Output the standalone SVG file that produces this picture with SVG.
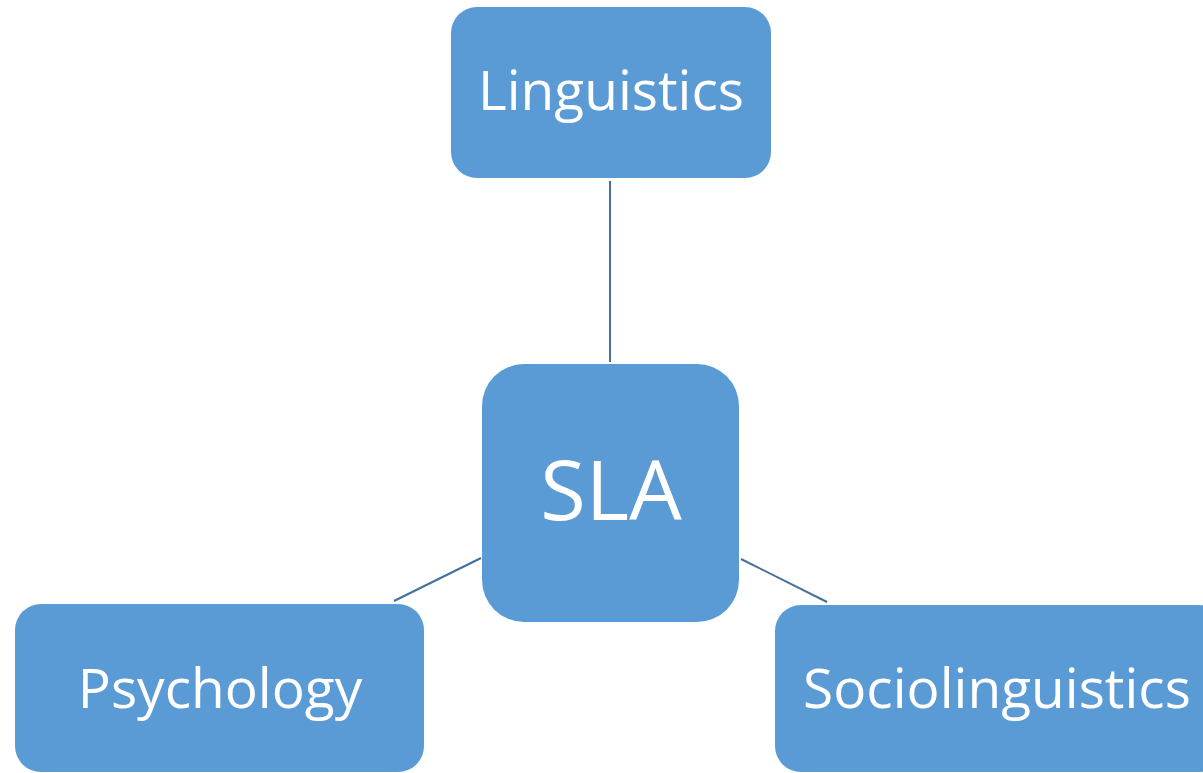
<svg xmlns="http://www.w3.org/2000/svg" width="1203" height="773" viewBox="0 0 1203 773">
  <style>
    .box { fill: #5B9BD5; }
    .label { fill: #FFFFFF; font-family: "Open Sans", "Noto Sans", sans-serif; text-anchor: middle; }
    .link { stroke: #41719C; stroke-width: 2; fill: none; }
  </style>
  <rect width="1203" height="773" fill="#FFFFFF"/>
  <g id="connectors">
    <line class="link" x1="610" y1="181" x2="610" y2="362"/>
    <line class="link" x1="481" y1="558" x2="394" y2="601"/>
    <line class="link" x1="741" y1="559" x2="827" y2="602"/>
  </g>
  <g id="node-linguistics">
    <rect class="box" x="451" y="7" width="320" height="171" rx="26"/>
    <text class="label" x="611" y="110" font-size="55">Linguistics</text>
  </g>
  <g id="node-sla">
    <rect class="box" x="482" y="364" width="257" height="258" rx="42"/>
    <text class="label" x="611" y="520" font-size="83">SLA</text>
  </g>
  <g id="node-psychology">
    <rect class="box" x="15" y="604" width="409" height="168" rx="26"/>
    <text class="label" x="220" y="708" font-size="55">Psychology</text>
  </g>
  <g id="node-sociolinguistics">
    <rect class="box" x="775" y="605" width="450" height="167" rx="26"/>
    <text class="label" x="997" y="708" font-size="55">Sociolinguistics</text>
  </g>
</svg>
